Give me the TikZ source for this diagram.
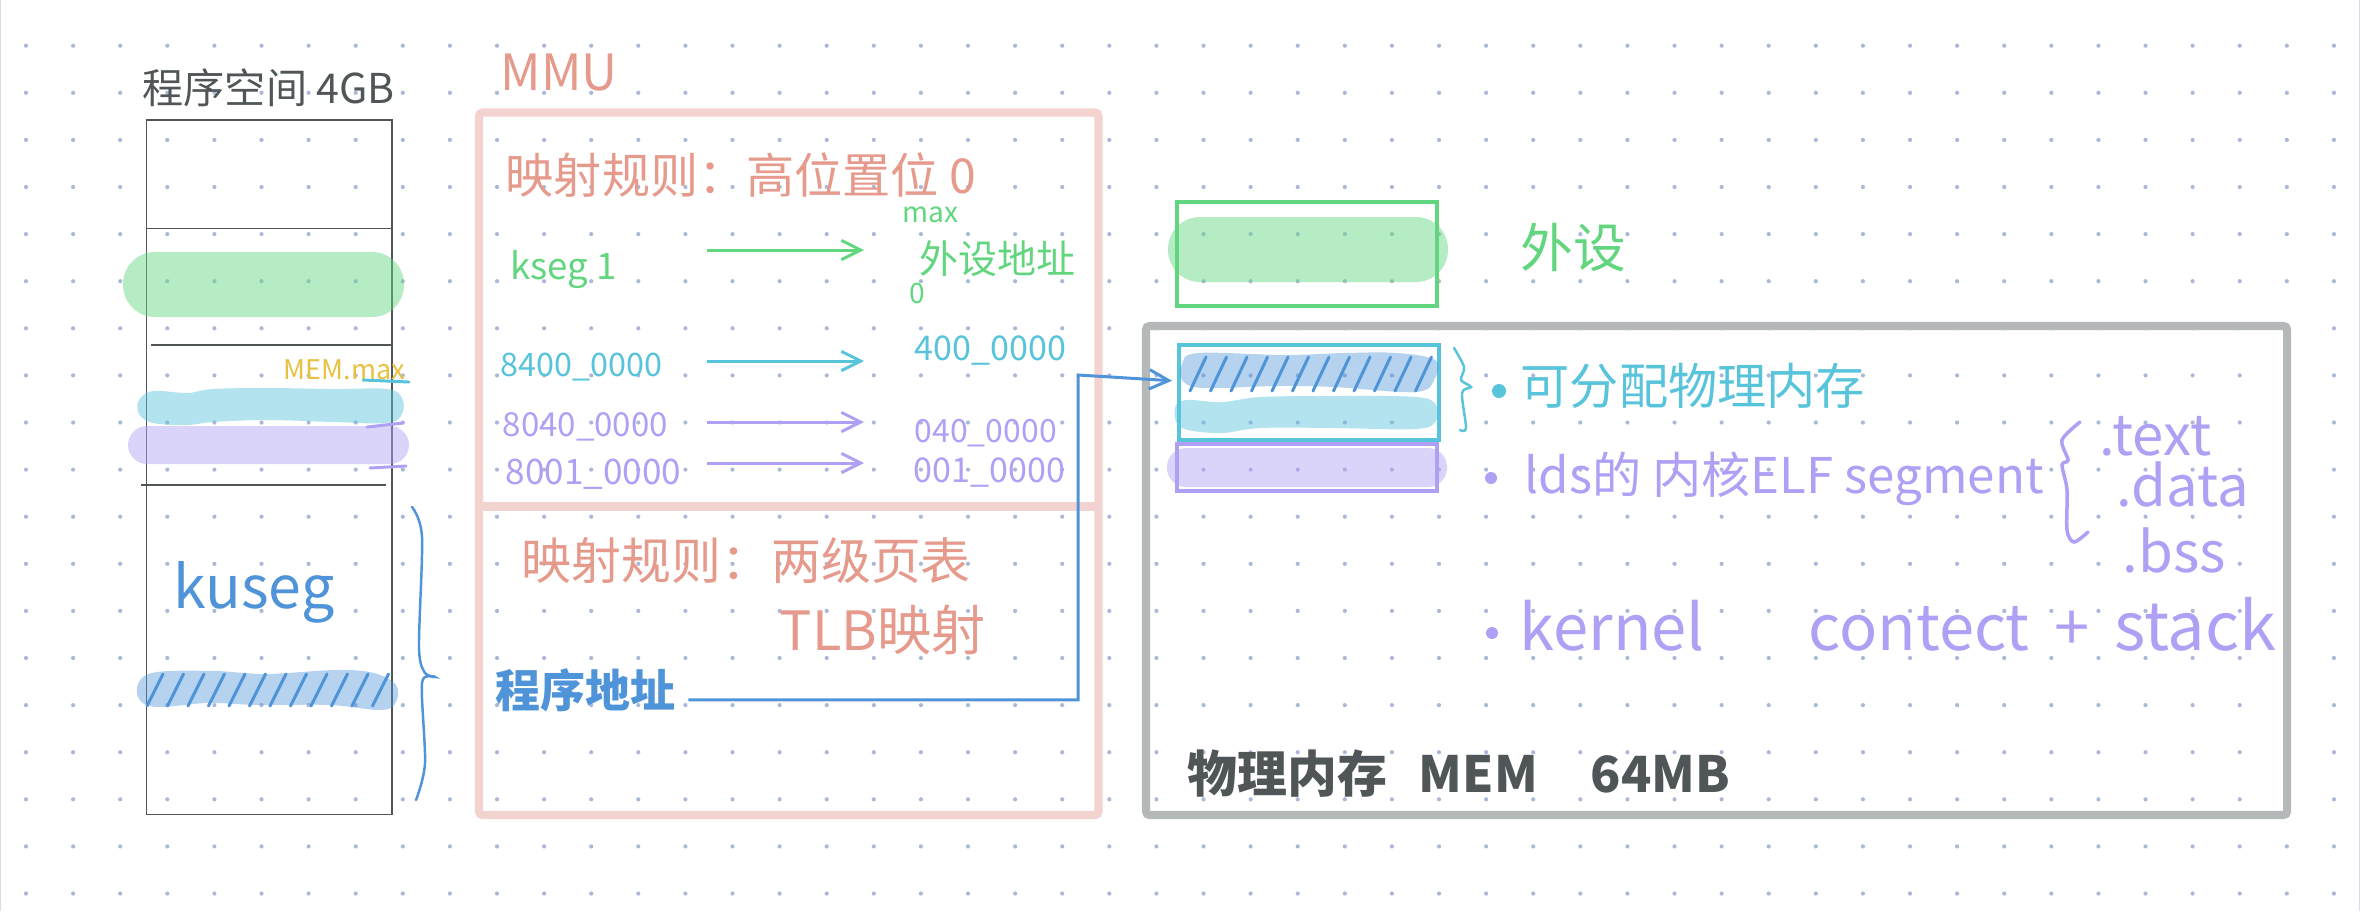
\documentclass[tikz,border=0pt]{standalone}
\usepackage{fontspec}
\setmainfont{Noto Sans CJK SC}
\usetikzlibrary{arrows.meta}
\definecolor{inkdark}{RGB}{80,86,87}
\definecolor{inkred}{RGB}{229,154,140}
\definecolor{inkgreen}{RGB}{98,214,126}
\definecolor{inkcyan}{RGB}{88,196,220}
\definecolor{inkpurple}{RGB}{176,160,245}
\definecolor{inkblue}{RGB}{79,148,216}
\definecolor{inkyellow}{RGB}{232,193,63}
\definecolor{griddot}{RGB}{172,184,216}
\definecolor{pageedge}{RGB}{216,220,232}
\definecolor{pinkline}{RGB}{243,211,207}
\definecolor{grayline}{RGB}{180,184,184}
\tikzset{
	txt/.style={inner sep=0,anchor=base west},
	redtxt/.style={txt,text=inkred},
	greentxt/.style={txt,text=inkgreen},
	cyantxt/.style={txt,text=inkcyan},
	purpletxt/.style={txt,text=inkpurple},
	bluetxt/.style={txt,text=inkblue},
	darktxt/.style={txt,text=inkdark},
	thinbox/.style={draw=inkdark,line width=0.45pt},
	fatbox/.style={line width=2.3pt,rounded corners=1pt},
	colbox/.style={draw=#1,line width=1pt,inner sep=0,anchor=north west},
	band/.style={fill=#1,fill opacity=0.46},
	bluehatch/.style={fill=inkblue,fill opacity=0.42},
	scribble/.style={inkblue,line width=0.85pt,line cap=round},
	curly/.style={draw=#1,line width=0.7pt,line cap=round},
	rowarrow/.style={draw=#1,line width=0.85pt,-{Straight Barb[length=5.5pt,width=5.5pt]}}
}
\newcommand{\sz}[1]{\fontsize{#1}{#1}\selectfont}
\newcommand{\pill}[6]{\fill[band=#1,rounded corners=#6] (#2,#3) rectangle (#4,#5)}
\newcommand{\maprow}[3]{\coordinate (out#1) at (707,#2);
 	\coordinate (in#1) at (864,#2);
 	\draw[rowarrow=#3] (out#1) -- (in#1)}
\newcommand{\hatches}[3]{\foreach \k in {0,...,11} {\draw[scribble] (#1+20.5*\k,#2) -- (#1+20.5*\k-16,#3);}}

\begin{document}
\begin{tikzpicture}[x=0.1mm,y=-0.1mm]
	\useasboundingbox (0,0) rectangle (2360,911);
	\fill[white] (0,0) rectangle (2360,911);
	\fill[pageedge] (0,0) rectangle (1.2,911);
	\fill[pageedge] (2358.8,0) rectangle (2360,911);
	\foreach \i in {0,...,49} {\foreach \j in {0,...,18} {\fill[griddot] (26+47.1*\i,45.7+47.1*\j) circle (2.1);}}

	\draw[thinbox] (146.5,120) rectangle (392,814.5);
	\draw[thinbox] (146.5,228.5) -- (392,228.5);
	\draw[thinbox] (151,345) -- (391,345);
	\draw[thinbox] (141,485) -- (386,485);
	\pill{inkgreen}{123}{252}{404}{317}{3.2mm};
	\fill[band=inkcyan] plot[smooth cycle,tension=0.6] coordinates {(139,400) (153,391) (187,393) (213,389) (267,388) (333,389) (387,389) (402,398) (402,414) (387,423) (333,422) (267,420) (213,422) (187,425) (153,423) (139,414)};
	\pill{inkpurple}{128}{426}{409}{464}{1.9mm};
	\fill[bluehatch] plot[smooth cycle,tension=0.6] coordinates {(139,682) (157,672) (215,671) (266,674) (336,670) (374,673) (396,685) (396,702) (381,710) (330,705) (259,705) (208,703) (157,707) (139,699)};
	\hatches{163}{674}{706};
	\node[darktxt,font=\sz{11.7}] (title) at (142,103) {程序空间 4GB};
	\node[txt,text=inkyellow,font=\sz{7.7}] (memmax) at (283,379) {MEM.max};
	\draw[inkcyan,line width=0.85pt,line cap=round] (363,380) -- (409,382);
	\draw[inkpurple,line width=0.85pt,line cap=round] (367,427) -- (403,423);
	\draw[inkpurple,line width=0.85pt,line cap=round] (370,468) -- (406,466);
	\node[bluetxt,font=\sz{16.8}] (kuseg) at (173,608) {kuseg};
	\draw[curly=inkblue] plot[smooth] coordinates {(412,507) (422,537) (419,647) (425,673) (435,677) (422,683) (425,763) (416,800)};

	\node[redtxt,font=\sz{14.2}] (mmu) at (500,90) {MMU};
	\draw[pinkline,fatbox] (479,112.5) rectangle (1098.5,815);
	\draw[pinkline,line width=2.3pt] (475,506.5) -- (1095,506.5);
	\node[redtxt,font=\sz{13.7}] (ruleone) at (505,193) {映射规则：高位置位 0};
	\node[greentxt,font=\sz{8}] (maxaddr) at (902,222) {max};
	\node[greentxt,font=\sz{10.4}] (kseg) at (510,279) {kseg 1};
	\node[greentxt,font=\sz{11.1}] (devaddr) at (919,273) {外设地址};
	\node[greentxt,font=\sz{8}] (zeroaddr) at (909,303) {0};
	\node[cyantxt,font=\sz{9.2}] (vbuf) at (500,376) {8400\_0000};
	\node[cyantxt,font=\sz{9.7}] (pbuf) at (914,360) {400\_0000};
	\node[purpletxt,font=\sz{9.4}] (vkern) at (502,436) {8040\_0000};
	\node[purpletxt,font=\sz{9.1}] (pkern) at (914,442) {040\_0000};
	\node[purpletxt,font=\sz{10}] (vload) at (505,484) {8001\_0000};
	\node[purpletxt,font=\sz{9.7}] (pload) at (913,482) {001\_0000};
	\maprow{kseg}{250}{inkgreen};
	\maprow{buf}{361}{inkcyan};
	\maprow{kern}{422}{inkpurple};
	\maprow{load}{463}{inkpurple};
	\node[redtxt,font=\sz{14.2}] (ruletwo) at (521,579) {映射规则：两级页表};
	\node[redtxt,font=\sz{15.4}] (tlb) at (779,650) {TLB映射};
	\node[bluetxt,font=\bfseries\sz{12.8}] (prog) at (495,707) {程序地址};

	\draw[inkgreen,line width=1pt] (1177,202) rectangle (1437,306);
	\pill{inkgreen}{1168}{217}{1448}{282}{3.2mm};
	\node[greentxt,font=\sz{15}] (dev) at (1520,267) {外设};

	\draw[grayline,fatbox] (1146,326) rectangle (2287,815);
	\node[colbox=inkcyan,minimum width=26mm,minimum height=9.5mm] (buf) at (1177,343) {};
	\fill[bluehatch] plot[smooth cycle,tension=0.6] coordinates {(1182,364) (1198,353) (1285,355) (1344,353) (1397,353) (1435,360) (1435,378) (1416,392) (1334,387) (1276,386) (1203,388) (1182,380)};
	\hatches{1206}{357}{391};
	\fill[band=inkcyan] plot[smooth cycle,tension=0.6] coordinates {(1176,405) (1188,400) (1222,402) (1261,397) (1334,396) (1416,397) (1436,405) (1436,421) (1416,429) (1334,428) (1261,428) (1222,433) (1188,430) (1176,422)};
	\pill{inkpurple}{1167}{448}{1447}{487}{1.9mm};
	\draw[inkpurple,line width=1pt] (1177,444) rectangle (1437,491);
	\draw[curly=inkcyan] plot[smooth] coordinates {(1454,348) (1464,367) (1461,380) (1471,387) (1462,393) (1466,428) (1460,430)};
	\fill[inkcyan] (1499,391) circle (7);
	\node[cyantxt,font=\sz{14}] (alloc) at (1520,404) {可分配物理内存};
	\fill[inkpurple] (1491,478) circle (6);
	\node[purpletxt,font=\sz{14}] (lds) at (1524,493) {lds的 内核ELF segment};
	\draw[curly=inkpurple,line width=1pt] plot[smooth] coordinates {(2080,422) (2062,440) (2068,460) (2062,465) (2067,490) (2067,530) (2074,542) (2088,532)};
	\node[purpletxt,font=\sz{16}] (text) at (2099,455) {.text};
	\node[purpletxt,font=\sz{16}] (data) at (2116,506) {.data};
	\node[purpletxt,font=\sz{16}] (bss) at (2122,572) {.bss};
	\fill[inkpurple] (1492,633) circle (6);
	\node[purpletxt,font=\sz{18}] (kernel) at (1519,650) {kernel};
	\node[purpletxt,font=\sz{18}] (stack) at (1808,650) {contect\hspace{3pt} +\hspace{3pt} {\sz{19}stack}};
	\node[darktxt,font=\bfseries\sz{14.2}] (mem) at (1187,792) {物理内存\hspace{9pt}MEM\hspace{15pt}64MB};

	\coordinate (bend) at (1078,375);
	\draw[rowarrow=inkblue] ([shift={(1.2mm,-1mm)}]prog.east) -| (bend) -- ([shift={(-0.5mm,1.15mm)}]buf.west);
\end{tikzpicture}
\end{document}
